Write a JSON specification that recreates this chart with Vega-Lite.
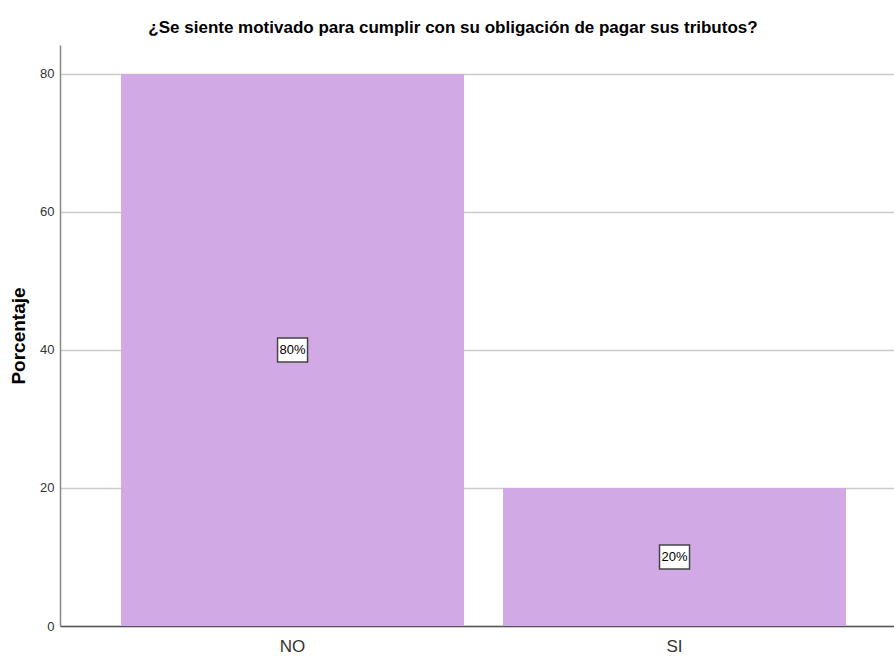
{
  "$schema": "https://vega.github.io/schema/vega-lite/v6.json",
  "autosize": "none",
  "width": 834,
  "height": 581,
  "padding": {"left": 60, "top": 45, "right": 0, "bottom": 31},
  "background": "white",
  "title": {
    "text": "¿Se siente motivado para cumplir con su obligación de pagar sus tributos?",
    "font": "Liberation Sans Narrow, Liberation Sans",
    "fontSize": 17,
    "fontWeight": "bold",
    "color": "#000000",
    "anchor": "middle",
    "dx": -24,
    "offset": 8
  },
  "data": {
    "values": [
      {"respuesta": "NO", "porcentaje": 80, "mitad": 40, "etiqueta": "80%"},
      {"respuesta": "SI", "porcentaje": 20, "mitad": 10, "etiqueta": "20%"}
    ]
  },
  "config": {
    "view": {"stroke": null},
    "axis": {"labelFont": "Liberation Sans Narrow, Liberation Sans", "titleFont": "Liberation Sans"}
  },
  "encoding": {
    "x": {
      "field": "respuesta",
      "type": "nominal",
      "sort": ["NO", "SI"],
      "scale": {"paddingInner": 0.102, "paddingOuter": 0.1427, "align": 0.56},
      "axis": {
        "title": null,
        "labelAngle": 0,
        "labelFontSize": 17,
        "labelColor": "#333333",
        "labelPadding": 12,
        "ticks": false,
        "domainColor": "#555555",
        "domainWidth": 1.5,
        "grid": false
      }
    }
  },
  "layer": [
    {
      "mark": {"type": "bar", "color": "#D1AAE5"},
      "encoding": {
        "y": {
          "field": "porcentaje",
          "type": "quantitative",
          "scale": {"domain": [0, 84.2], "nice": false},
          "axis": {
            "values": [0, 20, 40, 60, 80],
            "title": "Porcentaje",
            "titleFontSize": 19,
            "titleFontWeight": "bold",
            "titleColor": "#000000",
            "titleAngle": -90,
            "titleX": -42,
            "titleY": 290.5,
            "titleAlign": "center",
            "titleBaseline": "middle",
            "labelFontSize": 13,
            "labelColor": "#333333",
            "labelPadding": 6,
            "ticks": false,
            "domainColor": "#888888",
            "domainWidth": 1.5,
            "grid": true,
            "gridColor": "#CCCCCC",
            "gridWidth": 1.5
          }
        }
      }
    },
    {
      "mark": {
        "type": "point",
        "shape": "M-1,-0.8L1,-0.8L1,0.8L-1,0.8Z",
        "size": 900,
        "filled": false,
        "fill": "#FFFFFF",
        "fillOpacity": 1,
        "stroke": "#444444",
        "strokeWidth": 1.5,
        "opacity": 1
      },
      "encoding": {
        "y": {"field": "mitad", "type": "quantitative"}
      }
    },
    {
      "mark": {
        "type": "text",
        "font": "Liberation Sans Narrow, Liberation Sans",
        "fontSize": 13,
        "color": "#000000",
        "baseline": "middle",
        "align": "center"
      },
      "encoding": {
        "y": {"field": "mitad", "type": "quantitative"},
        "text": {"field": "etiqueta"}
      }
    }
  ]
}
